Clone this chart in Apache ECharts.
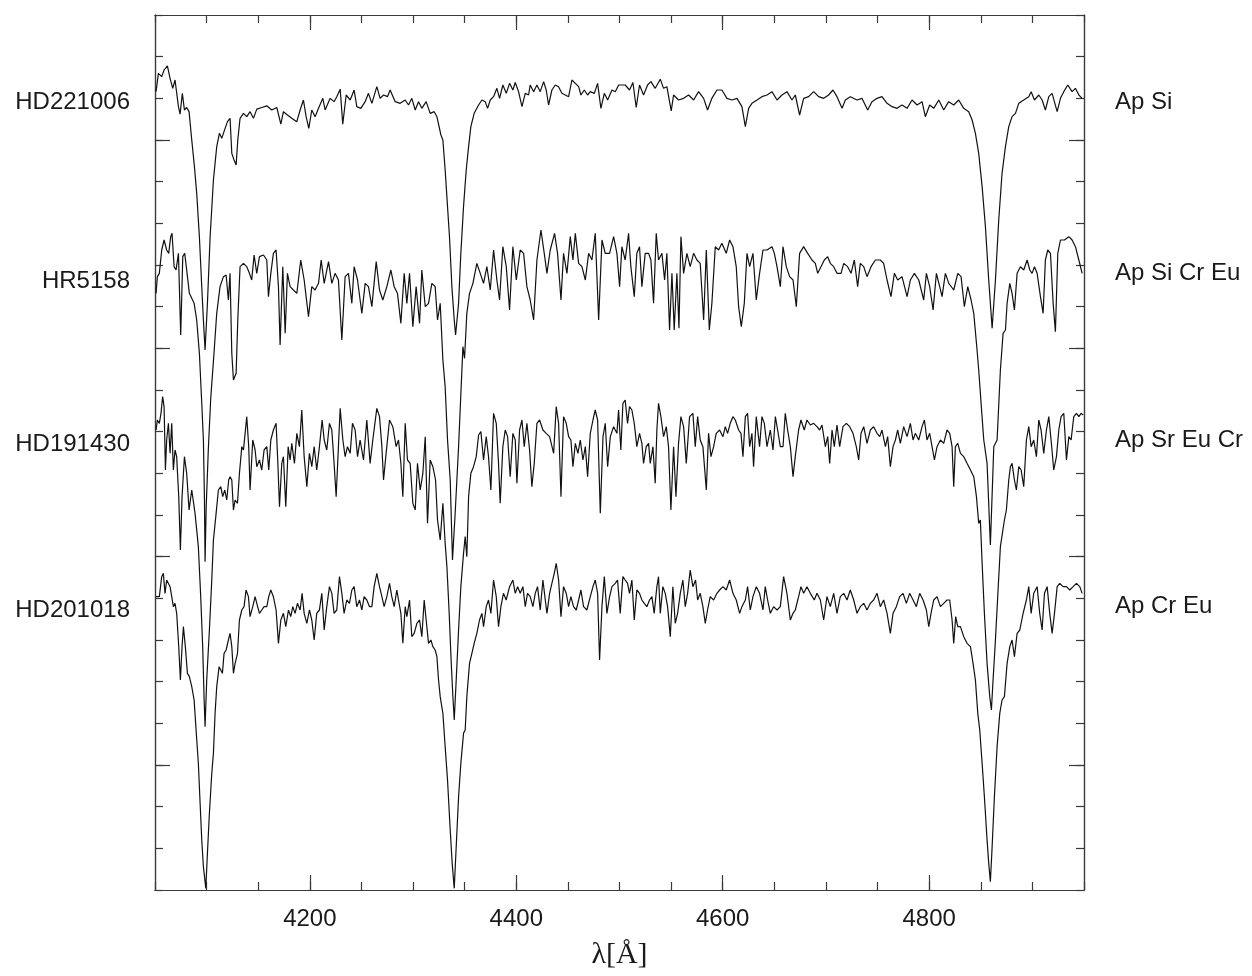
<!DOCTYPE html>
<html><head><meta charset="utf-8">
<script src="https://cdn.jsdelivr.net/npm/echarts@6/dist/echarts.min.js"></script>
<style>html,body{margin:0;padding:0;background:#fff}#c{width:1252px;height:976px}</style>
</head><body><div id="c"></div>
<script>
// Star names (left) and spectral classes (right)
const starNames = ['HD221006', 'HR5158', 'HD191430', 'HD201018'];
const starClasses = ['Ap Si', 'Ap Si Cr Eu', 'Ap Sr Eu Cr', 'Ap Cr Eu'];
// vertical level (in offset-flux units) at which each name/class label sits
const nameLevels = [1.59, 1.16, 0.77, 0.37];
const classLevels = [1.59, 1.18, 0.78, 0.38];
// x-axis tick labels
const xTickLabels = [4200, 4400, 4600, 4800];
const yMajorTicks = [0, 0.5, 1.0, 1.5];

// spectra: [wavelength (Å), offset flux]
const hd221006 = [[4051.0,1.616],[4053.3,1.660],[4056.5,1.652],[4058.8,1.668],[4062.0,1.678],[4064.6,1.648],[4067.2,1.624],[4069.4,1.644],[4072.7,1.580],[4074.3,1.562],[4076.5,1.612],[4078.5,1.572],[4080.7,1.578],[4083.0,1.568],[4085.6,1.500],[4088.2,1.436],[4090.4,1.372],[4093.0,1.268],[4095.3,1.148],[4096.9,1.068],[4098.5,0.996],[4100.8,1.108],[4103.4,1.268],[4106.6,1.404],[4109.8,1.484],[4112.4,1.516],[4114.7,1.504],[4117.9,1.528],[4120.2,1.544],[4122.7,1.552],[4124.4,1.468],[4126.6,1.452],[4128.6,1.440],[4130.2,1.500],[4132.4,1.552],[4135.7,1.564],[4138.9,1.556],[4142.1,1.568],[4145.4,1.552],[4148.6,1.574],[4153.4,1.578],[4158.3,1.582],[4163.1,1.572],[4168.0,1.578],[4171.9,1.538],[4174.4,1.568],[4178.3,1.560],[4182.5,1.552],[4187.4,1.544],[4190.6,1.572],[4193.8,1.596],[4196.4,1.556],[4199.0,1.528],[4201.9,1.572],[4205.1,1.556],[4208.4,1.576],[4212.6,1.600],[4214.8,1.572],[4219.7,1.600],[4223.5,1.592],[4226.1,1.604],[4229.4,1.622],[4231.9,1.538],[4235.2,1.608],[4239.1,1.596],[4242.9,1.620],[4245.5,1.580],[4249.4,1.576],[4253.6,1.592],[4256.8,1.612],[4260.1,1.588],[4264.9,1.628],[4268.1,1.600],[4271.4,1.608],[4275.2,1.604],[4277.8,1.620],[4282.7,1.592],[4287.5,1.588],[4292.4,1.596],[4295.6,1.584],[4298.8,1.600],[4302.1,1.572],[4305.3,1.592],[4308.5,1.576],[4312.7,1.592],[4316.6,1.564],[4320.5,1.568],[4323.1,1.556],[4325.0,1.556],[4327.0,1.512],[4328.9,1.500],[4331.1,1.428],[4333.4,1.340],[4335.3,1.268],[4337.6,1.148],[4339.9,1.068],[4341.2,1.032],[4344.1,1.108],[4346.3,1.228],[4348.9,1.340],[4351.5,1.428],[4353.8,1.484],[4356.0,1.532],[4359.2,1.564],[4363.5,1.584],[4366.7,1.596],[4369.9,1.592],[4372.2,1.576],[4374.8,1.596],[4378.0,1.604],[4381.2,1.624],[4383.8,1.600],[4387.0,1.632],[4390.3,1.612],[4393.5,1.636],[4396.7,1.620],[4399.0,1.638],[4402.2,1.616],[4405.5,1.580],[4408.7,1.612],[4411.9,1.608],[4413.5,1.632],[4416.8,1.616],[4420.0,1.632],[4423.2,1.616],[4426.5,1.640],[4429.0,1.620],[4431.3,1.584],[4434.5,1.620],[4437.8,1.632],[4441.0,1.628],[4444.2,1.612],[4447.5,1.608],[4450.7,1.604],[4453.9,1.644],[4457.2,1.636],[4460.4,1.628],[4462.6,1.608],[4465.9,1.620],[4469.1,1.608],[4471.7,1.616],[4475.6,1.612],[4478.8,1.636],[4482.0,1.576],[4485.3,1.612],[4488.5,1.596],[4492.7,1.620],[4495.9,1.616],[4499.2,1.632],[4505.5,1.632],[4509.7,1.620],[4513.0,1.638],[4516.2,1.578],[4519.4,1.632],[4523.3,1.608],[4527.2,1.632],[4530.4,1.640],[4534.6,1.624],[4539.5,1.646],[4542.7,1.624],[4545.9,1.628],[4550.1,1.570],[4552.4,1.608],[4557.2,1.596],[4562.1,1.600],[4566.9,1.608],[4571.8,1.596],[4576.6,1.616],[4581.5,1.600],[4585.3,1.572],[4589.5,1.600],[4594.4,1.620],[4599.2,1.620],[4604.1,1.600],[4608.9,1.596],[4613.8,1.600],[4618.6,1.580],[4621.9,1.532],[4625.1,1.576],[4628.3,1.588],[4633.2,1.596],[4638.0,1.604],[4642.9,1.608],[4647.7,1.616],[4652.6,1.596],[4657.4,1.608],[4662.2,1.616],[4667.1,1.596],[4670.3,1.608],[4674.5,1.560],[4678.4,1.600],[4683.2,1.604],[4688.1,1.616],[4692.9,1.604],[4697.8,1.600],[4702.6,1.608],[4706.8,1.620],[4710.7,1.604],[4715.6,1.576],[4718.8,1.596],[4723.6,1.604],[4730.1,1.596],[4734.9,1.600],[4740.4,1.572],[4744.6,1.592],[4749.5,1.600],[4754.3,1.604],[4759.2,1.588],[4764.0,1.580],[4768.9,1.576],[4773.7,1.584],[4778.6,1.576],[4783.4,1.596],[4788.3,1.584],[4793.1,1.592],[4796.3,1.556],[4800.5,1.584],[4804.4,1.576],[4809.3,1.596],[4814.1,1.572],[4818.9,1.592],[4823.8,1.584],[4828.6,1.596],[4833.5,1.576],[4838.3,1.568],[4841.6,1.548],[4844.8,1.516],[4848.0,1.468],[4851.3,1.388],[4854.5,1.292],[4857.7,1.164],[4861.0,1.048],[4864.2,1.164],[4867.4,1.308],[4870.6,1.420],[4873.9,1.484],[4877.1,1.532],[4880.3,1.556],[4883.6,1.564],[4886.8,1.588],[4891.6,1.596],[4896.5,1.604],[4898.8,1.616],[4902.0,1.596],[4906.2,1.608],[4909.4,1.596],[4912.6,1.572],[4915.9,1.604],[4919.1,1.612],[4924.0,1.568],[4927.2,1.600],[4930.4,1.616],[4934.3,1.632],[4938.5,1.616],[4941.7,1.624],[4945.0,1.608],[4948.2,1.600]];

const hr5158 = [[4051.0,1.132],[4052.3,1.172],[4054.2,1.180],[4056.5,1.236],[4058.8,1.260],[4061.3,1.236],[4063.3,1.228],[4065.2,1.268],[4066.5,1.276],[4068.5,1.196],[4070.4,1.188],[4072.7,1.228],[4074.9,1.032],[4076.9,1.220],[4078.8,1.228],[4080.7,1.188],[4083.3,1.132],[4085.6,1.120],[4087.9,1.108],[4090.4,1.068],[4093.0,0.988],[4095.3,0.868],[4096.9,0.780],[4097.9,0.640],[4098.5,0.488],[4099.6,0.620],[4101.7,0.760],[4104.0,0.880],[4107.2,0.990],[4109.8,1.084],[4113.0,1.148],[4116.3,1.172],[4118.9,1.176],[4121.1,1.116],[4122.7,1.180],[4124.4,0.988],[4126.0,0.924],[4128.6,0.940],[4130.2,1.068],[4132.4,1.196],[4135.7,1.204],[4138.9,1.196],[4141.5,1.180],[4143.7,1.164],[4146.0,1.224],[4148.6,1.180],[4151.2,1.220],[4155.1,1.224],[4158.3,1.212],[4159.9,1.124],[4162.2,1.180],[4164.7,1.228],[4167.3,1.236],[4169.6,1.148],[4171.2,1.008],[4173.8,1.196],[4176.1,1.036],[4178.3,1.180],[4180.9,1.148],[4184.1,1.140],[4187.4,1.132],[4191.2,1.212],[4194.5,1.164],[4198.7,1.076],[4201.9,1.148],[4205.1,1.140],[4208.4,1.156],[4211.0,1.212],[4213.9,1.156],[4218.1,1.208],[4221.3,1.156],[4224.5,1.180],[4227.7,1.164],[4231.0,1.020],[4234.2,1.172],[4237.4,1.180],[4240.7,1.108],[4242.9,1.196],[4246.2,1.164],[4250.4,1.084],[4253.6,1.156],[4256.8,1.148],[4260.1,1.100],[4264.3,1.208],[4267.5,1.140],[4270.7,1.116],[4274.6,1.148],[4278.5,1.188],[4281.7,1.148],[4284.9,1.132],[4288.2,1.060],[4291.4,1.180],[4294.0,1.108],[4296.6,1.180],[4299.8,1.052],[4303.0,1.148],[4306.3,1.060],[4308.5,1.188],[4311.8,1.100],[4315.0,1.108],[4318.2,1.156],[4321.4,1.148],[4323.7,1.068],[4326.3,1.108],[4328.9,0.972],[4331.1,0.908],[4333.4,0.780],[4336.0,0.684],[4338.2,0.492],[4340.8,0.604],[4344.1,0.764],[4348.3,1.004],[4349.9,0.976],[4352.1,1.084],[4354.7,1.132],[4358.0,1.156],[4361.8,1.204],[4365.1,1.180],[4368.3,1.156],[4371.5,1.196],[4374.8,1.140],[4378.0,1.236],[4381.2,1.164],[4383.8,1.116],[4387.0,1.244],[4390.3,1.196],[4393.5,1.092],[4396.7,1.244],[4400.0,1.164],[4403.8,1.236],[4407.1,1.228],[4410.3,1.148],[4413.5,1.116],[4416.8,1.068],[4420.0,1.212],[4423.9,1.284],[4427.1,1.228],[4429.7,1.180],[4432.9,1.236],[4437.1,1.276],[4440.0,1.228],[4443.3,1.116],[4445.8,1.228],[4449.1,1.180],[4452.3,1.268],[4454.9,1.212],[4457.2,1.276],[4460.4,1.204],[4463.6,1.196],[4466.9,1.164],[4470.1,1.228],[4473.3,1.212],[4476.5,1.276],[4479.8,1.068],[4483.0,1.260],[4486.2,1.228],[4490.4,1.228],[4494.3,1.268],[4497.5,1.228],[4500.1,1.148],[4502.3,1.244],[4505.5,1.212],[4508.8,1.276],[4511.0,1.196],[4514.3,1.124],[4516.8,1.228],[4519.4,1.244],[4521.7,1.148],[4524.9,1.228],[4528.2,1.228],[4530.4,1.212],[4533.0,1.108],[4535.6,1.276],[4537.8,1.212],[4541.1,1.228],[4543.7,1.164],[4545.9,1.228],[4548.5,1.044],[4550.8,1.180],[4553.0,1.044],[4555.6,1.180],[4557.6,1.048],[4559.5,1.268],[4562.1,1.180],[4565.3,1.228],[4568.5,1.196],[4571.8,1.228],[4575.0,1.212],[4578.2,1.204],[4581.5,1.068],[4584.1,1.236],[4587.0,1.044],[4589.5,1.108],[4592.8,1.244],[4596.0,1.236],[4599.2,1.252],[4603.4,1.228],[4606.7,1.260],[4609.9,1.244],[4613.1,1.196],[4615.4,1.100],[4618.0,1.052],[4620.9,1.108],[4623.5,1.228],[4626.1,1.196],[4629.3,1.228],[4632.5,1.116],[4635.7,1.180],[4639.0,1.236],[4642.9,1.236],[4647.7,1.244],[4650.0,1.228],[4652.6,1.196],[4655.8,1.148],[4658.4,1.244],[4661.6,1.196],[4664.8,1.172],[4668.1,1.164],[4671.3,1.100],[4674.5,1.228],[4678.4,1.244],[4682.3,1.228],[4686.5,1.212],[4689.7,1.204],[4692.0,1.180],[4695.2,1.196],[4698.4,1.212],[4701.7,1.220],[4704.2,1.204],[4707.5,1.196],[4710.7,1.180],[4714.6,1.180],[4717.2,1.204],[4721.0,1.196],[4724.3,1.180],[4727.5,1.212],[4730.7,1.148],[4733.3,1.204],[4736.6,1.196],[4739.8,1.172],[4743.7,1.196],[4747.9,1.212],[4752.7,1.212],[4755.9,1.204],[4759.2,1.164],[4763.0,1.124],[4766.3,1.180],[4769.5,1.164],[4773.7,1.172],[4778.6,1.124],[4781.8,1.164],[4785.7,1.180],[4789.9,1.164],[4794.7,1.116],[4797.3,1.180],[4800.5,1.148],[4803.8,1.092],[4807.0,1.180],[4810.2,1.148],[4812.5,1.124],[4815.7,1.180],[4819.0,1.156],[4823.8,1.140],[4827.7,1.180],[4830.9,1.172],[4834.1,1.100],[4837.4,1.148],[4840.6,1.116],[4843.2,1.084],[4846.4,0.996],[4848.0,0.948],[4850.3,0.868],[4852.9,0.780],[4856.1,0.724],[4859.3,0.528],[4862.6,0.764],[4865.8,0.780],[4869.0,0.948],[4871.6,1.036],[4873.9,1.044],[4875.5,1.108],[4878.1,1.156],[4880.3,1.132],[4882.6,1.092],[4885.2,1.180],[4888.4,1.196],[4891.6,1.188],[4894.9,1.212],[4897.5,1.188],[4899.7,1.180],[4902.0,1.196],[4904.6,1.180],[4907.8,1.124],[4910.4,1.084],[4912.6,1.212],[4914.9,1.236],[4917.5,1.228],[4920.1,1.108],[4922.3,1.040],[4924.6,1.228],[4927.2,1.260],[4931.1,1.260],[4935.3,1.268],[4938.5,1.260],[4941.7,1.244],[4945.0,1.212],[4948.2,1.180]];

const hd191430 = [[4051.0,0.804],[4052.3,0.828],[4054.2,0.820],[4055.8,0.844],[4057.4,0.884],[4058.8,0.860],[4060.1,0.708],[4061.3,0.780],[4063.0,0.820],[4064.6,0.748],[4066.2,0.820],[4067.8,0.708],[4069.4,0.756],[4071.0,0.740],[4073.0,0.644],[4074.6,0.516],[4076.2,0.644],[4078.5,0.740],[4080.7,0.700],[4083.0,0.612],[4085.6,0.660],[4088.8,0.604],[4092.0,0.524],[4094.3,0.404],[4096.2,0.284],[4097.5,0.164],[4098.5,0.092],[4100.1,0.204],[4102.7,0.324],[4105.0,0.444],[4106.6,0.540],[4109.2,0.604],[4111.4,0.660],[4113.7,0.668],[4115.6,0.644],[4117.6,0.660],[4119.5,0.636],[4121.4,0.684],[4122.7,0.692],[4124.4,0.684],[4126.0,0.612],[4127.6,0.636],[4129.9,0.628],[4131.8,0.700],[4134.1,0.764],[4135.7,0.756],[4138.9,0.836],[4140.8,0.764],[4142.1,0.660],[4144.7,0.780],[4147.0,0.756],[4148.6,0.716],[4151.2,0.732],[4153.4,0.708],[4155.7,0.756],[4158.3,0.764],[4160.2,0.708],[4162.2,0.780],[4164.7,0.804],[4167.3,0.820],[4168.9,0.732],[4170.6,0.620],[4172.8,0.724],[4174.4,0.740],[4176.7,0.620],[4179.0,0.764],[4180.9,0.732],[4182.5,0.772],[4185.1,0.724],[4187.4,0.796],[4189.9,0.764],[4192.2,0.852],[4194.5,0.740],[4197.1,0.668],[4199.6,0.748],[4201.9,0.716],[4204.2,0.764],[4206.7,0.708],[4209.3,0.764],[4211.9,0.828],[4213.9,0.780],[4216.4,0.756],[4219.0,0.820],[4221.3,0.804],[4223.5,0.724],[4225.5,0.644],[4227.7,0.764],[4229.4,0.856],[4232.0,0.780],[4234.2,0.740],[4236.5,0.764],[4239.1,0.748],[4241.3,0.820],[4243.9,0.804],[4246.2,0.740],[4248.7,0.780],[4252.0,0.732],[4255.2,0.828],[4258.4,0.724],[4261.0,0.780],[4264.9,0.856],[4267.5,0.836],[4269.8,0.764],[4271.4,0.684],[4273.9,0.748],[4277.2,0.828],[4280.4,0.812],[4283.6,0.764],[4285.9,0.780],[4288.2,0.724],[4290.1,0.644],[4292.4,0.820],[4294.6,0.732],[4297.2,0.724],[4299.8,0.628],[4302.1,0.612],[4304.3,0.724],[4306.9,0.660],[4309.5,0.700],[4311.8,0.788],[4314.0,0.580],[4316.6,0.732],[4319.2,0.716],[4321.8,0.684],[4323.7,0.588],[4326.3,0.540],[4328.9,0.628],[4331.1,0.532],[4332.8,0.476],[4335.0,0.364],[4337.0,0.244],[4338.6,0.164],[4339.9,0.108],[4341.8,0.204],[4344.1,0.324],[4346.3,0.428],[4348.9,0.508],[4350.5,0.548],[4352.1,0.500],[4353.8,0.644],[4356.0,0.700],[4358.6,0.716],[4361.2,0.740],[4363.5,0.792],[4365.7,0.800],[4368.3,0.732],[4370.9,0.788],[4373.1,0.740],[4375.4,0.660],[4378.0,0.844],[4380.6,0.820],[4382.8,0.724],[4384.4,0.628],[4387.0,0.764],[4389.3,0.804],[4391.6,0.788],[4394.1,0.692],[4396.7,0.796],[4399.0,0.780],[4400.6,0.676],[4403.2,0.804],[4405.5,0.828],[4407.7,0.764],[4410.3,0.820],[4412.9,0.756],[4415.1,0.668],[4417.4,0.724],[4420.0,0.820],[4422.6,0.828],[4425.8,0.804],[4429.0,0.796],[4432.3,0.788],[4436.2,0.748],[4438.7,0.860],[4441.0,0.820],[4443.3,0.644],[4445.8,0.836],[4448.4,0.820],[4450.7,0.788],[4452.9,0.780],[4454.9,0.716],[4457.2,0.772],[4459.7,0.748],[4462.0,0.780],[4464.6,0.732],[4466.9,0.764],[4469.1,0.692],[4471.7,0.796],[4474.3,0.828],[4476.5,0.852],[4478.8,0.828],[4481.4,0.604],[4484.0,0.788],[4486.2,0.820],[4488.5,0.716],[4491.1,0.788],[4494.3,0.812],[4497.5,0.796],[4499.1,0.852],[4501.3,0.756],[4503.3,0.868],[4505.5,0.876],[4507.8,0.820],[4509.7,0.860],[4512.0,0.852],[4514.3,0.820],[4516.8,0.764],[4519.4,0.796],[4521.7,0.772],[4523.3,0.724],[4525.9,0.764],[4528.2,0.772],[4529.8,0.724],[4532.4,0.764],[4534.6,0.676],[4536.2,0.804],[4537.8,0.868],[4540.1,0.836],[4542.7,0.788],[4545.3,0.812],[4547.5,0.764],[4549.8,0.612],[4552.4,0.764],[4554.7,0.644],[4557.2,0.772],[4559.5,0.836],[4562.1,0.812],[4564.7,0.724],[4567.9,0.836],[4571.1,0.844],[4573.4,0.764],[4575.7,0.836],[4578.2,0.780],[4580.8,0.764],[4584.1,0.660],[4586.3,0.796],[4588.6,0.740],[4591.2,0.764],[4593.7,0.796],[4597.0,0.804],[4600.2,0.788],[4602.5,0.812],[4604.7,0.796],[4607.3,0.820],[4609.9,0.836],[4612.2,0.828],[4615.4,0.804],[4617.7,0.796],[4619.6,0.740],[4621.9,0.836],[4624.1,0.844],[4626.1,0.764],[4628.3,0.796],[4629.9,0.716],[4632.5,0.836],[4635.7,0.764],[4638.0,0.836],[4640.3,0.820],[4642.9,0.764],[4646.1,0.804],[4648.7,0.756],[4651.0,0.836],[4653.2,0.804],[4655.8,0.764],[4658.4,0.764],[4660.6,0.844],[4662.9,0.804],[4665.5,0.764],[4668.1,0.692],[4670.3,0.740],[4673.5,0.804],[4675.8,0.828],[4679.0,0.804],[4681.6,0.828],[4684.9,0.816],[4688.1,0.820],[4691.3,0.812],[4693.9,0.804],[4696.2,0.816],[4699.4,0.764],[4701.7,0.788],[4703.6,0.724],[4705.9,0.804],[4708.1,0.764],[4710.7,0.816],[4713.3,0.764],[4716.5,0.812],[4719.8,0.820],[4723.0,0.812],[4726.2,0.796],[4729.4,0.764],[4731.7,0.732],[4734.0,0.796],[4736.6,0.812],[4739.8,0.772],[4743.0,0.804],[4746.2,0.812],[4749.5,0.796],[4752.1,0.788],[4754.3,0.804],[4757.6,0.764],[4759.8,0.788],[4762.4,0.716],[4765.0,0.764],[4767.3,0.780],[4769.5,0.804],[4772.1,0.772],[4775.3,0.812],[4778.6,0.788],[4781.8,0.820],[4784.4,0.780],[4786.6,0.796],[4789.9,0.780],[4793.1,0.812],[4795.4,0.828],[4797.9,0.780],[4800.5,0.796],[4802.8,0.764],[4805.1,0.732],[4807.6,0.764],[4810.9,0.780],[4814.1,0.772],[4817.3,0.804],[4819.9,0.796],[4822.2,0.764],[4823.8,0.668],[4825.4,0.764],[4827.7,0.772],[4830.3,0.748],[4833.5,0.740],[4836.7,0.724],[4840.0,0.708],[4843.2,0.692],[4845.8,0.644],[4848.0,0.580],[4849.6,0.588],[4851.3,0.484],[4853.5,0.364],[4856.1,0.244],[4858.7,0.164],[4860.3,0.132],[4861.9,0.204],[4864.2,0.300],[4866.4,0.404],[4869.0,0.524],[4870.6,0.520],[4872.9,0.588],[4874.8,0.612],[4877.1,0.684],[4878.7,0.716],[4880.3,0.724],[4882.6,0.684],[4884.5,0.660],[4886.8,0.716],[4889.1,0.708],[4891.6,0.668],[4894.2,0.780],[4896.5,0.812],[4898.8,0.764],[4901.3,0.780],[4903.9,0.740],[4906.2,0.828],[4908.4,0.804],[4911.0,0.748],[4913.6,0.804],[4915.9,0.836],[4918.1,0.780],[4920.7,0.708],[4923.3,0.740],[4925.6,0.804],[4927.8,0.836],[4930.4,0.844],[4933.0,0.732],[4935.3,0.788],[4937.5,0.780],[4940.1,0.836],[4942.7,0.844],[4945.0,0.836],[4947.2,0.844],[4949.2,0.840]];

const hd201018 = [[4051.0,0.404],[4052.3,0.400],[4054.2,0.404],[4056.5,0.452],[4058.1,0.460],[4059.7,0.412],[4061.3,0.444],[4063.0,0.444],[4064.6,0.428],[4066.2,0.428],[4067.8,0.380],[4069.4,0.388],[4071.0,0.364],[4073.0,0.284],[4074.6,0.204],[4076.2,0.284],[4077.5,0.332],[4079.4,0.284],[4081.4,0.220],[4083.3,0.212],[4085.6,0.188],[4087.9,0.156],[4089.8,0.084],[4092.0,0.004],[4093.7,-0.092],[4095.3,-0.180],[4096.9,-0.244],[4099.2,-0.296],[4100.8,-0.212],[4102.7,-0.116],[4105.0,-0.020],[4106.6,0.028],[4108.2,0.124],[4109.8,0.188],[4112.1,0.236],[4113.7,0.228],[4115.3,0.220],[4116.9,0.268],[4118.9,0.276],[4121.1,0.300],[4122.7,0.316],[4124.4,0.284],[4126.0,0.220],[4127.6,0.244],[4129.9,0.268],[4131.8,0.348],[4134.1,0.372],[4136.3,0.380],[4138.2,0.420],[4140.5,0.404],[4142.1,0.356],[4144.7,0.380],[4147.0,0.404],[4148.6,0.388],[4151.2,0.364],[4153.4,0.372],[4155.7,0.380],[4158.3,0.380],[4160.2,0.404],[4162.2,0.420],[4164.7,0.404],[4167.3,0.372],[4169.6,0.292],[4171.9,0.348],[4174.4,0.364],[4176.7,0.332],[4179.3,0.372],[4181.5,0.356],[4183.5,0.380],[4185.7,0.364],[4188.0,0.388],[4190.6,0.372],[4192.5,0.412],[4194.5,0.364],[4197.1,0.340],[4199.6,0.372],[4201.9,0.348],[4204.2,0.300],[4206.7,0.364],[4209.3,0.372],[4211.6,0.412],[4213.9,0.324],[4216.4,0.380],[4219.0,0.428],[4221.3,0.412],[4223.5,0.364],[4226.1,0.372],[4228.7,0.452],[4231.0,0.412],[4233.2,0.364],[4235.8,0.396],[4238.4,0.388],[4240.7,0.420],[4242.9,0.428],[4245.5,0.380],[4248.1,0.396],[4250.4,0.372],[4252.6,0.404],[4255.2,0.396],[4257.8,0.380],[4260.1,0.380],[4262.3,0.428],[4264.9,0.460],[4267.5,0.428],[4269.8,0.404],[4272.0,0.380],[4274.6,0.404],[4277.2,0.436],[4279.4,0.404],[4281.7,0.380],[4284.3,0.420],[4285.9,0.396],[4288.2,0.364],[4290.1,0.292],[4292.4,0.380],[4294.0,0.356],[4296.6,0.396],[4298.8,0.308],[4301.1,0.316],[4303.7,0.340],[4306.3,0.348],[4308.5,0.308],[4310.8,0.396],[4312.7,0.348],[4315.0,0.292],[4317.3,0.300],[4319.2,0.284],[4321.4,0.276],[4323.1,0.260],[4324.7,0.204],[4326.3,0.164],[4328.9,0.124],[4331.1,0.044],[4333.4,-0.036],[4336.0,-0.156],[4337.9,-0.236],[4339.9,-0.296],[4341.8,-0.196],[4344.1,-0.076],[4346.3,0.004],[4348.9,0.076],[4350.5,0.084],[4352.1,0.164],[4354.7,0.244],[4357.0,0.268],[4359.2,0.292],[4361.8,0.316],[4364.4,0.348],[4366.7,0.364],[4368.3,0.332],[4370.9,0.380],[4373.1,0.396],[4375.4,0.364],[4378.0,0.444],[4380.6,0.404],[4382.8,0.332],[4385.1,0.380],[4387.6,0.412],[4390.2,0.396],[4393.5,0.428],[4396.7,0.444],[4399.0,0.412],[4401.3,0.428],[4403.8,0.412],[4406.4,0.428],[4408.7,0.380],[4410.9,0.412],[4413.5,0.404],[4416.1,0.380],[4418.4,0.412],[4420.6,0.428],[4423.2,0.372],[4425.8,0.444],[4428.1,0.396],[4429.7,0.364],[4432.3,0.412],[4434.5,0.436],[4436.8,0.460],[4438.7,0.484],[4441.0,0.444],[4443.3,0.356],[4445.8,0.428],[4448.4,0.412],[4450.7,0.380],[4452.9,0.404],[4455.5,0.380],[4458.1,0.372],[4460.4,0.396],[4462.6,0.420],[4465.2,0.380],[4468.4,0.372],[4471.7,0.404],[4474.3,0.428],[4476.5,0.444],[4478.8,0.412],[4480.7,0.252],[4483.0,0.380],[4485.3,0.452],[4487.8,0.364],[4490.4,0.404],[4492.7,0.428],[4495.9,0.436],[4498.1,0.444],[4500.7,0.364],[4503.3,0.452],[4505.5,0.444],[4507.8,0.436],[4509.7,0.412],[4512.0,0.444],[4514.3,0.348],[4516.8,0.420],[4519.4,0.412],[4521.7,0.396],[4524.0,0.388],[4526.5,0.380],[4529.1,0.396],[4531.4,0.404],[4533.6,0.364],[4536.2,0.428],[4537.8,0.452],[4539.5,0.364],[4542.0,0.428],[4544.3,0.412],[4546.6,0.380],[4549.2,0.308],[4551.7,0.428],[4554.0,0.340],[4556.3,0.364],[4558.9,0.412],[4561.4,0.444],[4563.7,0.380],[4566.0,0.412],[4568.5,0.468],[4571.1,0.428],[4573.7,0.444],[4575.7,0.396],[4578.2,0.412],[4580.8,0.380],[4583.1,0.340],[4585.3,0.372],[4587.9,0.404],[4591.2,0.396],[4594.4,0.412],[4597.0,0.420],[4600.2,0.428],[4603.4,0.420],[4606.7,0.444],[4609.9,0.412],[4613.1,0.396],[4616.4,0.364],[4618.6,0.380],[4621.9,0.396],[4624.1,0.428],[4626.7,0.372],[4629.3,0.404],[4632.5,0.428],[4635.7,0.412],[4639.0,0.372],[4641.2,0.428],[4643.5,0.396],[4646.1,0.364],[4649.3,0.380],[4652.6,0.372],[4655.8,0.380],[4659.0,0.452],[4662.2,0.412],[4665.5,0.348],[4668.1,0.364],[4670.3,0.372],[4673.5,0.404],[4675.8,0.428],[4678.4,0.412],[4681.6,0.428],[4684.9,0.412],[4688.7,0.396],[4691.3,0.412],[4694.6,0.396],[4697.8,0.348],[4701.0,0.404],[4704.2,0.380],[4707.5,0.412],[4710.7,0.364],[4713.9,0.404],[4717.2,0.412],[4720.4,0.396],[4723.6,0.420],[4726.9,0.396],[4730.1,0.364],[4733.3,0.380],[4736.6,0.388],[4739.8,0.372],[4743.0,0.388],[4746.2,0.396],[4749.5,0.412],[4752.7,0.380],[4755.9,0.396],[4759.2,0.364],[4762.4,0.316],[4765.0,0.364],[4768.2,0.380],[4771.4,0.404],[4774.7,0.412],[4777.9,0.388],[4781.1,0.412],[4784.4,0.396],[4787.6,0.380],[4790.8,0.412],[4794.1,0.396],[4797.3,0.372],[4799.6,0.332],[4801.8,0.364],[4804.4,0.396],[4807.6,0.404],[4810.9,0.380],[4814.1,0.388],[4817.3,0.396],[4819.9,0.396],[4822.2,0.348],[4823.8,0.292],[4825.7,0.356],[4827.7,0.332],[4830.3,0.332],[4833.5,0.308],[4836.7,0.292],[4840.0,0.284],[4842.5,0.244],[4844.8,0.204],[4847.1,0.124],[4849.0,0.084],[4851.3,0.004],[4853.5,-0.076],[4856.1,-0.180],[4857.7,-0.236],[4859.3,-0.280],[4861.0,-0.196],[4863.2,-0.076],[4865.8,0.044],[4868.4,0.124],[4870.6,0.156],[4872.9,0.164],[4875.5,0.244],[4878.1,0.284],[4880.3,0.300],[4882.6,0.260],[4885.2,0.316],[4887.8,0.324],[4891.0,0.364],[4894.2,0.396],[4896.5,0.428],[4898.8,0.364],[4901.3,0.412],[4904.6,0.428],[4907.1,0.364],[4909.4,0.324],[4911.7,0.412],[4914.3,0.428],[4916.8,0.364],[4919.1,0.316],[4921.4,0.364],[4924.0,0.428],[4926.5,0.436],[4929.8,0.428],[4933.0,0.428],[4936.2,0.420],[4939.5,0.428],[4942.7,0.436],[4945.9,0.428],[4948.2,0.412]];

const spectra = [hd221006, hr5158, hd191430, hd201018];

const chart = echarts.init(document.getElementById('c'), null, {renderer: 'canvas'});
const frame = '#3a3a3a';
const GL = 155, GT = 15, GW = 929, GH = 875;
const baseX = {type: 'value', min: 4050, max: 4950, splitLine: {show: false},
  axisLine: {show: true, onZero: false, lineStyle: {color: frame, width: 1.2}}};
const baseY = {type: 'value', min: -0.3, max: 1.8, splitLine: {show: false},
  axisLine: {show: true, onZero: false, lineStyle: {color: frame, width: 1.2}}, axisLabel: {show: false}};
const font = '"Liberation Sans", Arial, Helvetica, sans-serif';

const option = {
  animation: false,
  backgroundColor: '#ffffff',
  grid: {left: GL, top: GT, width: GW, height: GH, containLabel: false, outerBoundsMode: 'none'},
  xAxis: [
    Object.assign({}, baseX, {position: 'bottom', interval: 50,
      axisTick: {show: true, inside: true, length: 8, lineStyle: {color: frame, width: 1.2}}, axisLabel: {show: false}}),
    Object.assign({}, baseX, {position: 'bottom',
      axisTick: {show: true, inside: true, length: 15, customValues: xTickLabels, lineStyle: {color: frame, width: 1.2}},
      axisLabel: {show: true, customValues: xTickLabels, formatter: v => String(Math.round(v)),
        fontSize: 24, color: '#1a1a1a', fontFamily: font, margin: 17},
      name: 'λ[Å]', nameLocation: 'middle', nameGap: 50,
      nameTextStyle: {fontSize: 30, fontFamily: '"Liberation Serif", "DejaVu Serif", serif', color: '#1a1a1a'}}),
    Object.assign({}, baseX, {position: 'top', interval: 50,
      axisTick: {show: true, inside: true, length: 8, lineStyle: {color: frame, width: 1.2}}, axisLabel: {show: false}}),
    Object.assign({}, baseX, {position: 'top',
      axisTick: {show: true, inside: true, length: 15, customValues: xTickLabels, lineStyle: {color: frame, width: 1.2}},
      axisLabel: {show: false}})
  ],
  yAxis: [
    Object.assign({}, baseY, {position: 'left', interval: 0.1,
      axisTick: {show: true, inside: true, length: 8, lineStyle: {color: frame, width: 1.2}}}),
    Object.assign({}, baseY, {position: 'left',
      axisTick: {show: true, inside: true, length: 15, customValues: yMajorTicks, lineStyle: {color: frame, width: 1.2}}}),
    Object.assign({}, baseY, {position: 'right', interval: 0.1,
      axisTick: {show: true, inside: true, length: 8, lineStyle: {color: frame, width: 1.2}}}),
    Object.assign({}, baseY, {position: 'right',
      axisTick: {show: true, inside: true, length: 15, customValues: yMajorTicks, lineStyle: {color: frame, width: 1.2}}})
  ],
  series: spectra.map((d, i) => ({
    name: starNames[i], type: 'line', xAxisIndex: 0, yAxisIndex: 0, data: d,
    showSymbol: false, symbol: 'none', clip: true,
    lineStyle: {color: '#111111', width: 1.2}, z: 3
  }))
};
chart.setOption(option);

// name / class labels placed at data levels
const graphics = [];
starNames.forEach((n, i) => {
  const p = chart.convertToPixel({xAxisIndex: 0, yAxisIndex: 0}, [4050, nameLevels[i]]);
  graphics.push({type: 'text', x: GL - 25, y: p[1], style: {text: n, font: '24px ' + font, fill: '#1a1a1a', align: 'right', verticalAlign: 'middle'}});
});
starClasses.forEach((n, i) => {
  const p = chart.convertToPixel({xAxisIndex: 0, yAxisIndex: 0}, [4950, classLevels[i]]);
  graphics.push({type: 'text', x: GL + GW + 31, y: p[1], style: {text: n, font: '24px ' + font, fill: '#1a1a1a', align: 'left', verticalAlign: 'middle'}});
});
chart.setOption({graphic: graphics});
</script>
</body></html>
